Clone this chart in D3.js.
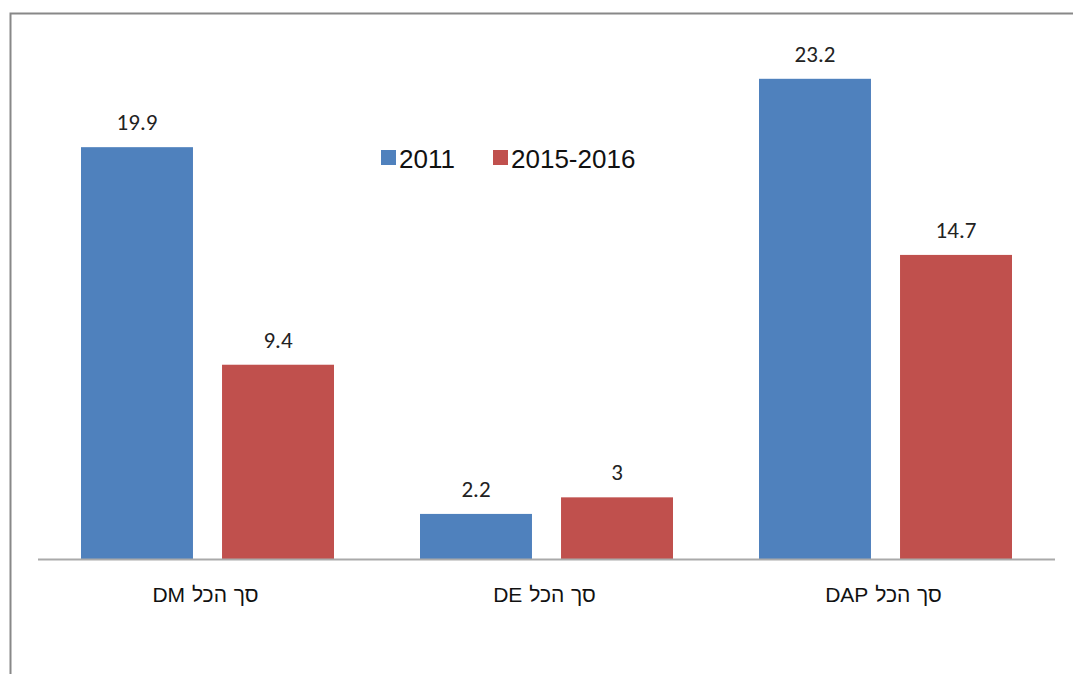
<!DOCTYPE html>
<html>
<head>
<meta charset="utf-8">
<script src="https://cdn.jsdelivr.net/npm/d3@7"></script>
<style>
  body { margin: 0; background: #fff; }
  svg { display: block; }
</style>
</head>
<body>
<svg id="chart" width="1073" height="674"></svg>
<script>
// chart data
let categories = ['סך הכל DM', 'סך הכל DE', 'סך הכל DAP'];
let series_names = ['2011', '2015-2016'];
let values_2011 = [19.9, 2.2, 23.2];
let values_2015 = [9.4, 3, 14.7];
let series_colors = ['#4F81BD', '#C0504D'];

let svg = d3.select('#chart');
let width = 1073, height = 674;

// outer frame (only top and left edges visible)
svg.append('path')
  .attr('d', 'M10.5,' + height + ' V13.5 H' + width)
  .attr('fill', 'none').attr('stroke', '#888').attr('stroke-width', 2);

let plot_left = 38, plot_right = 1055;
let base_y = 559.5;
let px_per_unit = 20.72;

let x0 = d3.scaleBand().domain(categories).range([plot_left, plot_right]).paddingInner(0).paddingOuter(0);
let x1 = d3.scaleBand().domain(series_names).range([43, 339 - 43]).paddingInner(0.206);
let y = d3.scaleLinear().domain([0, 25]).range([base_y, base_y - 25 * px_per_unit]);

let rows = categories.map((c, i) => ({cat: c, vals: [values_2011[i], values_2015[i]]}));

let groups = svg.selectAll('.group').data(rows).enter().append('g')
  .attr('class', 'group')
  .attr('transform', d => 'translate(' + x0(d.cat) + ',0)');

groups.selectAll('rect').data(d => d.vals.map((v, j) => ({v: v, s: series_names[j], j: j})))
  .enter().append('rect')
  .attr('x', d => x1(d.s))
  .attr('width', x1.bandwidth())
  .attr('y', d => y(d.v))
  .attr('height', d => y(0) - y(d.v))
  .attr('fill', d => series_colors[d.j]);

groups.selectAll('.val').data(d => d.vals.map((v, j) => ({v: v, s: series_names[j]})))
  .enter().append('text')
  .attr('class', 'val')
  .attr('x', d => x1(d.s) + x1.bandwidth() / 2)
  .attr('y', d => y(d.v) - 17)
  .attr('text-anchor', 'middle')
  .attr('font-family', 'Carlito, "Open Sans", "Liberation Sans", sans-serif')
  .attr('font-size', 23)
  .attr('fill', '#222')
  .text(d => d.v);

// baseline
svg.append('line')
  .attr('x1', plot_left).attr('x2', plot_right)
  .attr('y1', base_y).attr('y2', base_y)
  .attr('stroke', '#aaa').attr('stroke-width', 2);

// category labels
svg.selectAll('.cat').data(categories).enter().append('text')
  .attr('class', 'cat')
  .attr('x', d => x0(d) + x0.bandwidth() / 2 - 2)
  .attr('y', 602)
  .attr('text-anchor', 'middle')
  .attr('direction', 'rtl')
  .attr('font-family', '"Liberation Sans", "DejaVu Sans", sans-serif')
  .attr('font-size', 21)
  .attr('word-spacing', 1)
  .attr('fill', '#111')
  .text(d => d);

// legend
let legend_x = [381, 493];
let legend = svg.selectAll('.legend').data(series_names).enter().append('g')
  .attr('class', 'legend')
  .attr('transform', (d, i) => 'translate(' + legend_x[i] + ',150)');
legend.append('rect').attr('width', 15).attr('height', 15)
  .attr('fill', (d, i) => series_colors[i]);
legend.append('text')
  .attr('x', 18).attr('y', 18)
  .attr('font-family', '"Liberation Sans", Arial, sans-serif')
  .attr('font-size', 26)
  .attr('fill', '#111')
  .text(d => d);
</script>
</body>
</html>
